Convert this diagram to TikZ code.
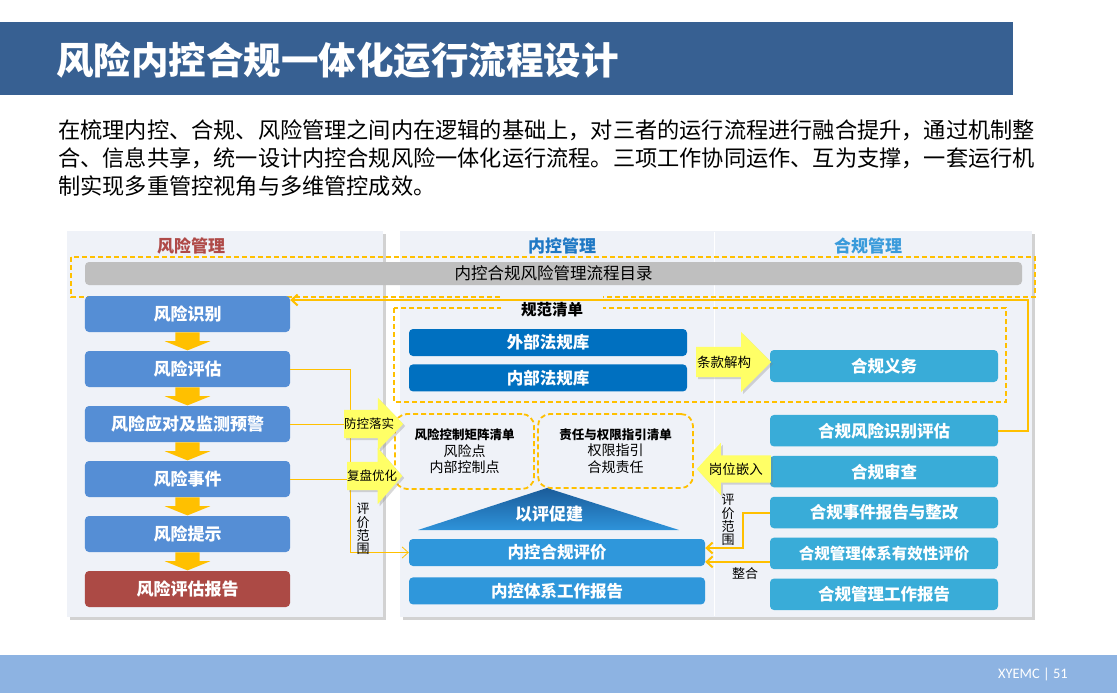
\documentclass[tikz,border=0pt]{standalone}
\usepackage{fontspec}
\setmainfont{Noto Sans CJK SC}
\newfontfamily\footfont{Carlito}
\usetikzlibrary{matrix,positioning,shapes.arrows,shadows,arrows.meta}

\definecolor{bannerblue}{HTML}{376092}
\definecolor{riskblue}{HTML}{558ED5}
\definecolor{riskred}{HTML}{AC4A45}
\definecolor{lawblue}{HTML}{0070C0}
\definecolor{compblue}{HTML}{39ACD8}
\definecolor{evalblue}{HTML}{2F97DB}
\definecolor{gold}{HTML}{FFC000}
\definecolor{panelgray}{HTML}{EFF2F8}
\definecolor{barblue}{HTML}{8DB3E2}
\definecolor{calloutyellow}{HTML}{FFFF66}
\definecolor{headred}{HTML}{AF4A48}
\definecolor{headblue}{HTML}{1F78C4}
\definecolor{headcyan}{HTML}{3A9BDB}
\definecolor{tridark}{HTML}{1B5C9A}
\definecolor{trilight}{HTML}{2E93DA}

\begin{document}
\begin{tikzpicture}[
x=1pt, y=-1pt,
panel/.style={
  fill=panelgray,
  drop shadow={shadow xshift=3pt, shadow yshift=-3pt, opacity=.35}
  },
head/.style={
  font=\bfseries\fontsize{17}{20}\selectfont
  },
box/.style={
  rounded corners=4pt,
  text=white,
  inner sep=0pt,
  font=\bfseries\fontsize{16.5}{19}\selectfont
  },
rbox/.style={
  box,
  fill=riskblue,
  minimum width=205pt,
  minimum height=36pt,
  font=\bfseries\fontsize{17}{20}\selectfont
  },
cbox/.style={
  box,
  fill=compblue,
  minimum width=228pt,
  minimum height=31.5pt
  },
lawbox/.style={
  box,
  fill=lawblue,
  minimum width=278pt,
  minimum height=27pt
  },
evbox/.style={
  box,
  fill=evalblue,
  minimum width=296pt,
  minimum height=27pt
  },
riskcol/.style={
  matrix of nodes,
  nodes={rbox},
  row sep=19pt
  },
compcol/.style={
  matrix of nodes,
  nodes={cbox},
  row sep=9.4pt
  },
golddash/.style={
  draw=gold,
  line width=1.8pt,
  dash pattern=on 5pt off 3pt
  },
listbox/.style={
  golddash,
  rounded corners=12pt,
  align=center,
  inner sep=0pt,
  font=\fontsize{14}{16.5}\selectfont
  },
downarrow/.style={
  single arrow,
  shape border rotate=270,
  fill=gold,
  minimum height=18pt,
  minimum width=18pt,
  inner xsep=12pt,
  inner ysep=0pt,
  single arrow head extend=10.5pt,
  single arrow tip angle=136
  },
callout/.style={
  single arrow,
  fill=calloutyellow,
  inner xsep=0pt,
  single arrow tip angle=92,
  drop shadow={shadow xshift=2pt, shadow yshift=-2pt, opacity=.3}
  },
calltext/.style={
  inner sep=0pt,
  font=\fontsize{13.5}{15}\selectfont
  },
vtext/.style={
  align=center,
  inner sep=0pt,
  font=\fontsize{13}{13.3}\selectfont
  },
thinline/.style={
  draw=gold,
  line width=0.8pt
  },
thickline/.style={
  draw=gold,
  line width=2pt
  },
>={Straight Barb[length=6pt,width=11pt]}
]

\useasboundingbox (0,0) rectangle (1117,693);
\fill[white] (0,0) rectangle (1117,693);

% title and text
\fill[bannerblue] (0,22) rectangle (1013,95);
\node[anchor=west, inner sep=0pt, text=white,
  font=\bfseries\fontsize{37.5}{44}\selectfont] (title) at (56,60)
  {风险内控合规一体化运行流程设计};
\node[anchor=west, inner sep=0pt, align=left,
  font=\fontsize{22.2}{28}\selectfont] (intro) at (58,158)
  {在梳理内控、合规、风险管理之间内在逻辑的基础上，对三者的运行流程进行融合提升，通过机制整\\
   合、信息共享，统一设计内控合规风险一体化运行流程。三项工作协同运作、互为支撑，一套运行机\\
   制实现多重管控视角与多维管控成效。};

% panels
\path[panel] (67,231) rectangle (383,617);
\path[panel] (400,231) rectangle (1032,617);
\draw[white, line width=1pt] (714,232) -- (714,616);
\node[head, text=headred] (hrisk) at (191,246) {风险管理};
\node[head, text=headblue] (hctrl) at (562,246) {内控管理};
\node[head, text=headcyan] (hcomp) at (868,246) {合规管理};

% catalogue
\draw[golddash] (71,257) rectangle (1035,297);
\node[fill=black!25, rounded corners=4pt, minimum width=937pt, minimum height=23pt,
  inner sep=0pt, font=\fontsize{16.5}{19}\selectfont] (cat) at (553.5,273.5)
  {内控合规风险管理流程目录};

% list of norms
\draw[golddash] (394,308) rectangle (1006,402);
\node[fill=panelgray, inner xsep=20pt, inner ysep=8pt,
  font=\bfseries\fontsize{15.5}{18}\selectfont] (gfqd) at (552,310) {规范清单};
\node[lawbox] (wbfg) at (548,342.5) {外部法规库};
\node[lawbox, below=8pt of wbfg] (nbfg) {内部法规库};
\node[cbox, minimum height=32pt] (hgyw) at (884,366) {合规义务};

% risk column
\matrix[riskcol] (risk) at (187.5,451.5)
{
风险识别 \\
风险评估 \\
风险应对及监测预警 \\
风险事件 \\
风险提示 \\
|[fill=riskred]| 风险评估报告 \\
};
\foreach \i in {1,...,5}
  \node[downarrow, anchor=tail] at (risk-\i-1.south) {};

% compliance column
\matrix[compcol] (comp) at (884,512.5)
{
合规风险识别评估 \\
合规审查 \\
合规事件报告与整改 \\
|[font=\bfseries\fontsize{15.5}{18}\selectfont]| 合规管理体系有效性评价 \\
合规管理工作报告 \\
};

% lists and evaluation
\node[listbox, minimum width=139pt, minimum height=75pt] (rcm) at (464.5,451.5)
  {{\bfseries\fontsize{12.5}{16.5}\selectfont 风险控制矩阵清单}\\风险点\\内部控制点};
\node[listbox, minimum width=155pt, minimum height=74pt] (zrqx) at (615.5,451)
  {{\bfseries\fontsize{12.5}{16.5}\selectfont 责任与权限指引清单}\\权限指引\\合规责任};
\shade[top color=tridark, bottom color=trilight] (547,488) -- (679,530) -- (418,530) -- cycle;
\node[text=white, inner sep=0pt, font=\bfseries\fontsize{17}{20}\selectfont] (ypcj)
  at (549,514) {以评促建};
\node[evbox] (hkpj) at (557,552.5) {内控合规评价};
\node[evbox, below=11pt of hkpj] (nkbg) {内控体系工作报告};

% connectors
\coordinate (turnR) at (1028,300);
\coordinate (backL) at (risk-1-1.east |- turnR);
\draw[thickline, ->] (comp-1-1.east) -| (turnR) -- (backL);
\draw[thinline, ->] (risk-2-1.east) -- ++(60,0) |- (hkpj.west);
\draw[thinline] (risk-3-1.east) -- ++(60,0);
\draw[thinline] (risk-4-1.east) -- ++(60,0);
\draw[thickline, ->] (comp-3-1.west) -- ++(-27,0) |- ([yshift=4.5pt]hkpj.east);
\draw[thickline, ->] ([yshift=-8.5pt]comp-4-1.west) -- ([yshift=-8.5pt]comp-4-1.west -| hkpj.east);

% callouts
\node[callout, anchor=tail, minimum height=59pt, inner ysep=14pt,
  single arrow head extend=12pt] (fkls) at (344,424) {};
\node[calltext, anchor=west, font=\fontsize{12.5}{14}\selectfont] at (fkls.tail) {防控落实};
\node[callout, anchor=tail, minimum height=55pt, inner ysep=14pt,
  single arrow head extend=14pt, single arrow tip angle=98] (fpyh) at (347,476) {};
\node[calltext, anchor=west, font=\fontsize{12.5}{14}\selectfont] at (fpyh.tail) {复盘优化};
\node[callout, anchor=tail, minimum height=75pt, inner ysep=15pt,
  single arrow head extend=15pt, single arrow tip angle=90] (tkjg) at (696,362) {};
\node[calltext, anchor=west] at ([xshift=1pt]tkjg.tail) {条款解构};
\node[callout, anchor=tail, shape border rotate=180, minimum height=74pt, inner ysep=13.5pt,
  single arrow head extend=12.5pt, single arrow tip angle=95] (gwqr) at (771,469) {};
\node[calltext, anchor=east] at ([xshift=-8pt]gwqr.tail) {岗位嵌入};

% labels
\node[vtext] (pjfw1) at (363,529) {评\\价\\范\\围};
\node[vtext] (pjfw2) at (728,520) {评\\价\\范\\围};
\node[inner sep=0pt, font=\fontsize{13}{15}\selectfont] (zh) at (745,574) {整合};

% footer
\fill[barblue] (0,655) rectangle (1117,693);
\node[anchor=east, inner sep=0pt, text=white, font=\footfont\fontsize{14.5}{16}\selectfont]
  (foot) at (1068,674) {XYEMC | 51};
\end{tikzpicture}
\end{document}
